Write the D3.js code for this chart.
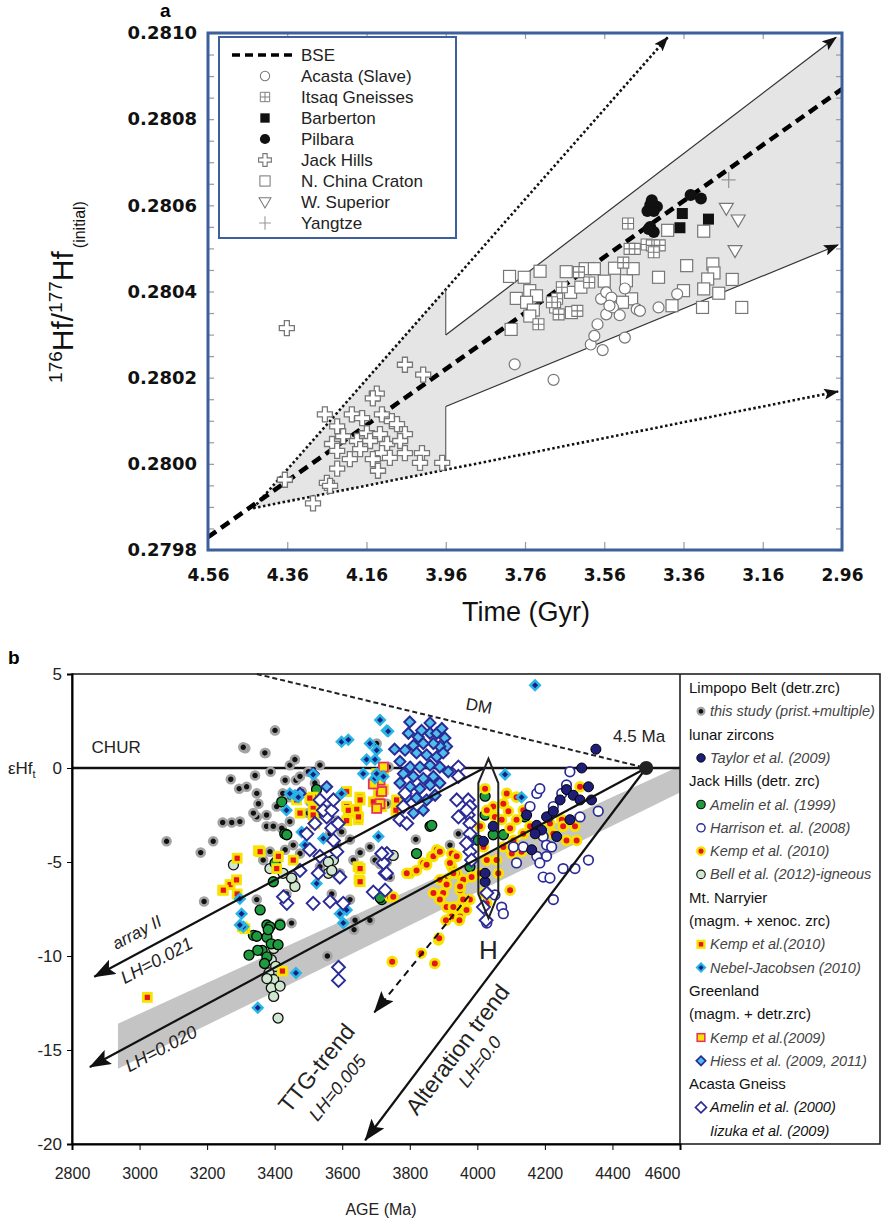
<!DOCTYPE html>
<html>
<head>
<meta charset="utf-8">
<script src="https://cdn.jsdelivr.net/npm/d3@7"></script>
<style>
  body { margin: 0; background: #fff; }
  svg { display: block; font-family: "Liberation Sans", Arial, sans-serif; }
</style>
</head>
<body>
<svg id="chart" width="885" height="1228"></svg>
<script>
// ---------------- panel a : [age Gyr, 176Hf/177Hf initial] ----------------
var aXTicks = [4.56, 4.36, 4.16, 3.96, 3.76, 3.56, 3.36, 3.16, 2.96];
var aYTicks = [0.2798, 0.2800, 0.2802, 0.2804, 0.2806, 0.2808, 0.2810];
var aLegendNames = ["BSE", "Acasta (Slave)", "Itsaq Gneisses", "Barberton", "Pilbara",
                    "Jack Hills", "N. China Craton", "W. Superior", "Yangtze"];

var bse = [[4.56, 0.27983], [2.96, 0.28087]];
var fanArea = [[4.446, 0.279897], [3.96, 0.280405], [3.96, 0.280299], [2.975, 0.28099],
               [2.96, 0.28099], [2.96, 0.280512], [3.96, 0.280133], [3.96, 0.279986]];
var fanUpperDotted = [[4.446, 0.279897], [3.40, 0.28099]];
var fanLowerDotted = [[4.446, 0.279897], [2.97, 0.280168]];
var fanUpperSolid = [[3.96, 0.280299], [2.975, 0.28099]];
var fanLowerSolid = [[3.96, 0.280133], [2.97, 0.280508]];
var fanStepUpper = [[3.96, 0.280405], [3.96, 0.280299]];
var fanStepLower = [[3.96, 0.279986], [3.96, 0.280133]];

var aAcasta = [[3.786,0.280231],[3.688,0.280195],[3.594,0.280277],[3.585,0.280297],[3.564,0.280264],
  [3.508,0.280293],[3.577,0.280324],[3.555,0.280347],[3.568,0.280383],[3.555,0.280398],[3.542,0.280386],
  [3.538,0.280363],[3.521,0.280345],[3.508,0.280407],[3.478,0.280359],[3.470,0.280355],[3.423,0.280363],
  [3.376,0.280394],[3.547,0.280367]];
var aItsaq = [[3.500,0.280558],[3.496,0.280499],[3.483,0.280499],[3.453,0.280509],[3.440,0.280507],
  [3.420,0.280507],[3.435,0.280491],[3.512,0.280467],[3.624,0.280445],[3.598,0.280421],[3.667,0.280410],
  [3.679,0.280383],[3.684,0.280363],[3.675,0.280347],[3.628,0.280355],[3.726,0.280324],[3.692,0.280375]];
var aBarberton = [[3.363,0.280581],[3.369,0.280548],[3.297,0.280568]];
var aPilbara = [[3.444,0.280601],[3.451,0.280587],[3.435,0.280587],[3.427,0.280597],[3.440,0.280612],
  [3.444,0.280550],[3.435,0.280538],[3.448,0.280545],[3.342,0.280624],[3.316,0.280616]];
var aJackHills = [[4.361,0.280315],[4.063,0.280230],[4.017,0.280207],[4.134,0.280163],[4.144,0.280152],
  [4.265,0.280115],[4.197,0.280115],[4.171,0.280106],[4.121,0.280115],[4.096,0.280099],[4.234,0.280087],
  [4.083,0.280092],[4.219,0.280064],[4.159,0.280071],[4.126,0.280069],[4.063,0.280069],[4.247,0.280046],
  [4.184,0.280053],[4.151,0.280053],[4.108,0.280046],[4.075,0.280053],[4.234,0.280030],[4.176,0.280034],
  [4.121,0.280025],[4.063,0.280025],[4.020,0.280025],[4.202,0.280011],[4.144,0.280011],[4.101,0.280014],
  [4.025,0.280002],[3.969,0.280002],[4.234,0.279989],[4.131,0.279984],[4.366,0.279963],[4.260,0.279956],
  [4.252,0.279949],[4.295,0.279908]];
var aNChina = [[3.799,0.280435],[3.762,0.280433],[3.722,0.280447],[3.782,0.280384],[3.748,0.280402],
  [3.731,0.280390],[3.756,0.280375],[3.739,0.280357],[3.748,0.280343],[3.795,0.280312],[3.656,0.280446],
  [3.645,0.280398],[3.643,0.280351],[3.619,0.280410],[3.608,0.280453],[3.585,0.280453],[3.560,0.280424],
  [3.534,0.280454],[3.504,0.280425],[3.487,0.280453],[3.491,0.280383],[3.514,0.280375],[3.423,0.280433],
  [3.400,0.280542],[3.352,0.280460],[3.360,0.280402],[3.389,0.280367],[3.309,0.280540],[3.286,0.280464],
  [3.283,0.280443],[3.299,0.280429],[3.309,0.280406],[3.271,0.280396],[3.312,0.280363],[3.237,0.280428],
  [3.213,0.280363]];
var aWSuperior = [[3.252,0.280593],[3.222,0.280566],[3.230,0.280495]];
var aYangtze = [[3.246,0.280659]];

// ---------------- panel b : [age Ma, epsilon Hf] ----------------
var bXTicks = [2800, 3000, 3200, 3400, 3600, 3800, 4000, 4200, 4400, 4600];
var bYTicks = [5, 0, -5, -10, -15, -20];

var bDM = [[3347, 5], [4500, 0]];
var bArrayII = [[4020, 0], [2866, -11.1]];
var bLH020 = [[4500, 0], [2853, -15.9]];
var bAlteration = [[4500, 0], [3668, -19.8]];
var bTTG = [[3975, -6.8], [3695, -13.0]];
var bBand = [[2936, -13.6], [4600, 0.1], [4600, -1.3], [2936, -16.0]];
var bH = [[4033, 0.5], [4062, -0.8], [4062, -6.7], [4033, -8.0], [4003, -6.7], [4003, -0.8]];
var bOrigin = [4500, 0];

var thisStudy = [[3080,-3.9],[3181,-4.5],[3191,-7.1],[3218,-3.9],[3246,-2.9],[3273,-2.9],[3270,-0.6],
  [3295,-1.1],[3313,1.05],[3317,-1.0],[3342,-0.4],[3347,-1.35],[3352,-1.9],[3373,0.8],[3376,-2.5],
  [3388,-0.2],[3401,2.0],[3347,-2.6],[3376,-3.1],[3396,-3.1],[3297,-2.85],[3337,-2.4],[3431,-0.65],
  [3445,0.15],[3460,0.45],[3463,-0.65],[3406,-2.05],[3424,-1.35],[3445,-1.55],[3475,-0.45],[3480,-1.25],
  [3500,-0.2],[3534,0.15],[3519,-0.8],[3505,-1.8],[3500,-2.4],[3534,-2.4],[3564,-2.2],[3564,-3.5],
  [3583,-2.8],[3598,-3.4],[3583,-4.1],[3623,-3.8],[3633,-4.9],[3653,-4.5],[3682,-4.2],[3697,-4.9],
  [3702,1.3],[3732,-1.9],[3737,0.05],[3455,-4.1],[3475,-4.55],[3505,-4.35],[3455,-6.0],[3435,-6.7],
  [3347,-7.0],[3416,-8.25],[3450,-8.25],[3712,-5.1],[3741,-5.8],[3623,-7.0],[3638,-8.1],[3569,-6.7],
  [3593,-5.6],[3534,-5.25],[3366,-4.9],[3386,-4.45],[3406,-4.9],[3431,-4.35],[3421,-3.2],[3445,-2.85],
  [3944,-3.5],[3818,-3.8],[3919,-4.1],[3732,-5.0],[3556,-10.0],[3635,-8.6],[3682,-8.1],[3307,1.1],[3371,0.8]];
var bell12 = [[3397,-9.6],[3390,-10.2],[3403,-10.55],[3383,-10.9],[3397,-11.25],[3390,-11.7],[3397,-12.15],
  [3410,-13.3],[3377,-11.2],[3416,-11.6],[3386,-5.35],[3425,-5.6],[3460,-6.3],[3574,-4.9],[3559,-5.6],
  [3559,-5.0],[3569,-5.45],[3751,-4.65],[3450,-5.85],[3278,-5.15]];
var amelin99 = [[3377,-8.35],[3416,-8.35],[3337,-8.9],[3377,-9.0],[3390,-9.35],[3363,-9.7],[3410,-9.4],
  [3350,-9.7],[3324,-9.95],[3377,-10.05],[3370,-10.4],[3421,-1.8],[3430,-3.5],[3401,-5.05],[3396,-6.05],
  [3347,-8.95],[3386,-8.45],[3717,-7.0],[3436,-3.55],[3524,-1.15],[3357,-7.55],[3381,-8.6],[3712,-6.9],
  [3820,-4.55],[3860,-3.1],[4023,-1.5],[4023,-2.5],[4047,-3.55],[4077,-3.55],[4003,-3.85],[3978,-5.25],
  [3865,-3.05],[4141,-2.6]];
var kempJH = [[4023,-1.1],[4047,-2.05],[4052,-2.6],[4077,-1.9],[4092,-2.3],[4072,-2.75],[4097,-3.2],
  [4116,-2.75],[4107,-3.85],[4136,-3.5],[4131,-4.45],[4102,-4.55],[4077,-4.2],[4057,-4.9],[4062,-5.6],
  [4097,-6.5],[4028,-2.25],[4008,-3.1],[4018,-4.2],[4028,-4.9],[4008,-5.6],[4018,-6.65],[4028,-7.2],
  [3983,-5.8],[3978,-7.0],[3949,-6.5],[3958,-5.95],[3939,-5.6],[3924,-5.25],[3924,-4.55],[3904,-5.95],
  [3899,-6.65],[3909,-7.4],[3939,-7.4],[3924,-7.9],[3949,-7.9],[3880,-4.35],[3865,-4.7],[3840,-5.05],
  [3801,-5.6],[3741,-6.85],[4156,-3.1],[4176,-3.5],[4215,-2.95],[4225,-3.5],[4250,-2.75],[4264,-3.85],
  [4294,-3.85],[4289,-3.1],[4304,-1.0],[4254,-3.1],[4116,-1.55],[4136,-2.25],[4087,-1.35],[3791,-5.6],
  [3820,-5.45],[3850,-5.15],[3870,-4.7],[3889,-4.45],[3889,-5.95],[3909,-6.2],[3929,-5.6],[3919,-5.05],
  [3939,-4.7],[3949,-6.3],[3958,-7.0],[3929,-7.4],[3968,-7.55],[3889,-7.0],[3870,-6.65],[3751,-6.85],
  [3885,-9.15],[3748,-10.3],[3834,-9.85],[3874,-10.4],[3887,-9.05],[3947,-8.1],[3907,-8.1]];
var harrison = [[4274,-0.2],[4264,-0.9],[4250,-1.35],[4225,-2.05],[4210,-2.6],[4195,-3.65],[4205,-4.1],
  [4205,-4.7],[4220,-4.2],[4254,-5.35],[4289,-5.35],[4329,-4.9],[4358,-2.3],[4304,-2.6],[4176,-4.7],
  [4195,-5.8],[4215,-5.85],[4225,-7.0],[4185,-5.05],[4072,-7.4],[4077,-7.75],[4028,-8.25],[4052,-6.75],
  [4116,-5.05],[4107,-4.2],[4136,-4.2],[4176,-1.35],[4156,-2.05],[4185,-1.1]];
var taylor = [[4146,-2.5],[4176,-3.05],[4190,-3.3],[4205,-2.6],[4225,-2.3],[4245,-1.7],[4264,-1.15],
  [4284,-1.45],[4304,-1.7],[4309,0.0],[4329,-1.0],[4338,-1.7],[4351,1.0],[4235,-3.65],[4161,-4.35],
  [4171,-3.5],[4274,-2.75],[4047,-3.1],[4023,-6.05],[4018,-3.9],[4023,-5.6]];
var kempMN = [[3289,-4.8],[3352,-4.4],[3246,-6.5],[3268,-6.2],[3287,-5.95],[3289,-6.7],[3406,-5.35],
  [3455,-4.9],[3475,-2.4],[3514,-1.55],[3514,-2.15],[3514,-2.5],[3613,-1.25],[3613,-2.05],[3623,-2.4],
  [3647,-2.75],[3652,-1.55],[3647,-5.25],[3650,-5.95],[3702,-0.3],[3712,-0.8],[3722,-1.15],[3707,-1.6],
  [3312,-8.55],[3613,-2.8],[3643,-2.2],[3504,-1.6],[3465,-1.7],[3519,-2.95],[3618,-2.25],[3648,-2.6],
  [3653,-1.7],[3707,-1.35],[3717,-2.05],[3722,-0.2],[3761,-1.7],[3759,-2.25],[3692,-1.8],[3411,-4.7],
  [3357,-4.45],[3248,-6.5],[3653,-5.35],[3653,-6.05],[3023,-12.2],[3304,-8.45],[3423,-10.8]];
var kemp09 = [[3712,-0.65],[3717,-1.25],[3712,-1.9],[3702,-2.15],[3722,0.05],[3692,-0.85]];
var nebel = [[3712,2.55],[3732,2.0],[3598,1.4],[3618,1.5],[3682,1.3],[3514,-0.35],[3460,-1.45],[3435,-2.25],
  [3480,-3.4],[3490,-4.1],[3544,-3.75],[3598,-1.35],[3697,-0.55],[3672,0.45],[3662,-0.3],[3702,0.95],
  [3297,-6.95],[3302,-7.75],[3307,-8.45],[3603,-8.25],[3697,0.45],[3702,-0.3],[3722,-0.45],[3445,-1.35],
  [3470,-1.55],[3707,-3.65],[3524,-6.15],[3593,-7.75],[3613,-7.55],[4171,4.4],[4082,-0.35],[4131,-1.55],
  [3736,1.95],[3350,-12.75],[3463,-10.9],[3297,-8.35]];
var hiess = [[3800,2.45],[3860,2.4],[3796,1.85],[3825,1.65],[3860,1.85],[3880,1.85],[3904,1.6],[3909,1.15],
  [3889,1.15],[3870,1.3],[3840,1.3],[3811,1.2],[3786,0.95],[3820,0.8],[3850,0.7],[3880,0.6],[3899,0.8],
  [3771,0.35],[3801,0.05],[3830,0.05],[3860,0.15],[3889,0.05],[3781,-0.3],[3811,-0.45],[3840,-0.55],
  [3870,-0.45],[3771,-0.8],[3801,-1.0],[3830,-1.1],[3860,-0.9],[3791,-1.55],[3820,-1.6],[3850,-1.7],
  [3875,-1.45],[3840,-2.25],[3811,-2.4],[3781,-2.05],[3889,-0.8],[3914,-0.2],[3514,-0.3],[3554,-1.0],
  [3475,-1.35],[3755,1.0],[3835,2.0],[3895,2.1]];
var acastaB = [[3944,0.05],[3944,-0.45],[3973,-1.7],[3978,-2.05],[3973,-2.5],[3978,-2.95],[3978,-3.5],
  [3973,-4.0],[3978,-4.45],[3983,-4.9],[4028,-6.65],[4018,-7.4],[3727,-5.6],[3727,-6.5],[3786,-1.35],
  [3781,-2.05],[3771,-2.75],[3732,-4.55],[3939,-1.7],[3944,-2.6],[3968,-2.25],[3968,-4.0],[3791,-2.95],
  [3731,-5.6],[3722,-5.05],[3717,-4.55],[3692,-6.6],[3514,-7.2],[3564,-7.1],[3603,-7.2],[3529,-5.6],
  [3593,-5.8],[3534,-4.7],[3504,-4.35],[3495,-3.5],[3574,-3.85],[3584,-4.45],[3569,-3.2],[3554,-2.6],
  [3544,-2.25],[3569,-2.25],[3534,-1.7],[3574,-1.7],[3588,-2.95],[3519,-2.95],[3436,-7.2],[3426,-6.85],
  [3475,-5.45],[3589,-10.6],[3589,-11.3],[4026,-8.1]];

var bLegendRows = [
  ["Limpopo Belt (detr.zrc)", ""], ["this study (prist.+multiple)", "thisStudy"],
  ["lunar zircons", ""], ["Taylor et al. (2009)", "taylor"],
  ["Jack Hills (detr. zrc)", ""], ["Amelin et al. (1999)", "amelin99"],
  ["Harrison et. al. (2008)", "harrison"], ["Kemp et al. (2010)", "kempJH"],
  ["Bell et al. (2012)-igneous", "bell12"], ["Mt. Narryier", ""],
  ["(magm. + xenoc. zrc)", ""], ["Kemp et al.(2010)", "kempMN"],
  ["Nebel-Jacobsen (2010)", "nebel"], ["Greenland", ""],
  ["(magm. + detr.zrc)", ""], ["Kemp et al.(2009)", "kemp09"],
  ["Hiess et al. (2009, 2011)", "hiess"], ["Acasta Gneiss", ""],
  ["Amelin et al. (2000)", "acastaB"], ["Iizuka et al. (2009)", "-"]
];

var svg = d3.select("#chart");
var boldFont = "'DejaVu Sans', Verdana, sans-serif";
var defs = svg.append("defs");

function arrowMarker(id, w, h) {
  defs.append("marker").attr("id", id).attr("markerUnits", "userSpaceOnUse")
    .attr("viewBox", "0 0 " + w + " " + h).attr("markerWidth", w).attr("markerHeight", h)
    .attr("refX", w - 1).attr("refY", h / 2).attr("orient", "auto")
    .append("path").attr("d", "M0,0L" + w + "," + h / 2 + "L0," + h + "L" + (w * 0.2) + "," + h / 2 + "Z")
    .attr("fill", "#111");
}
arrowMarker("headA", 15, 11);
arrowMarker("headB", 22, 16);

// =================== panel a ===================
var ax = d3.scaleLinear().domain([4.56, 2.96]).range([208, 842]);
var ay = d3.scaleLinear().domain([0.2798, 0.2810]).range([550, 33]);
var la = d3.line().x(function(d) { return ax(d[0]); }).y(function(d) { return ay(d[1]); });
var gA = svg.append("g");

gA.append("path").attr("d", la(fanArea) + "Z").attr("fill", "#e5e5e5");

function tickStyle(g) {
  g.select(".domain").remove();
  g.selectAll(".tick line").attr("stroke", "#9a9a9a").attr("stroke-width", 1.2);
}
var minorY = d3.range(25).map(function(i) { return 0.2798 + i * 0.00005; });
var innerX = aXTicks.slice(1, -1);
gA.append("g").attr("transform", "translate(208,0)")
  .call(d3.axisRight(ay).tickValues(minorY).tickSize(6).tickFormat("")).call(tickStyle);
gA.append("g").attr("transform", "translate(842,0)")
  .call(d3.axisLeft(ay).tickValues(minorY).tickSize(6).tickFormat("")).call(tickStyle);
gA.append("g").attr("transform", "translate(0,550)")
  .call(d3.axisTop(ax).tickValues(innerX).tickSize(8).tickFormat("")).call(tickStyle);
gA.append("g").attr("transform", "translate(0,33)")
  .call(d3.axisBottom(ax).tickValues(innerX).tickSize(6).tickFormat("")).call(tickStyle);

// labels
var yLab = gA.append("g").attr("transform", "translate(208,0)")
  .call(d3.axisLeft(ay).tickValues(aYTicks).tickSize(0).tickPadding(11).tickFormat(d3.format(".4f")));
yLab.select(".domain").remove();
yLab.selectAll("text").attr("font-family", boldFont).attr("font-weight", "bold")
  .attr("font-size", 18).attr("fill", "#111");
var xLab = gA.append("g").attr("transform", "translate(0,550)")
  .call(d3.axisBottom(ax).tickValues(aXTicks).tickSize(0).tickPadding(19).tickFormat(d3.format(".2f")));
xLab.select(".domain").remove();
xLab.selectAll("text").attr("font-family", boldFont).attr("font-weight", "bold")
  .attr("font-size", 17).attr("fill", "#111");

// fan lines
gA.append("path").attr("d", la(fanUpperDotted)).attr("stroke", "#111").attr("stroke-width", 2.6)
  .attr("stroke-dasharray", "2.5,2.5").attr("fill", "none").attr("marker-end", "url(#headA)");
gA.append("path").attr("d", la(fanLowerDotted)).attr("stroke", "#111").attr("stroke-width", 2.6)
  .attr("stroke-dasharray", "2.5,2.5").attr("fill", "none").attr("marker-end", "url(#headA)");
[fanUpperSolid, fanLowerSolid].forEach(function(l) {
  gA.append("path").attr("d", la(l)).attr("stroke", "#333").attr("stroke-width", 1.2)
    .attr("fill", "none").attr("marker-end", "url(#headA)");
});
[fanStepUpper, fanStepLower].forEach(function(l) {
  gA.append("path").attr("d", la(l)).attr("stroke", "#555").attr("stroke-width", 1.1).attr("fill", "none");
});
gA.append("path").attr("d", la(bse)).attr("stroke", "#000").attr("stroke-width", 4.5)
  .attr("stroke-dasharray", "10,6").attr("fill", "none");

function markA(g, kind) {
  if (kind === "acasta") {
    g.append("circle").attr("r", 5.5).attr("fill", "#fff").attr("stroke", "#777").attr("stroke-width", 1.2);
  } else if (kind === "itsaq") {
    g.append("path").attr("d", "M-5.5,-5.5h11v11h-11Z M0,-5.5v11 M-5.5,0h11")
      .attr("fill", "#fff").attr("stroke", "#777").attr("stroke-width", 1.1);
  } else if (kind === "barberton") {
    g.append("rect").attr("x", -5.5).attr("y", -5.5).attr("width", 11).attr("height", 11).attr("fill", "#111");
  } else if (kind === "pilbara") {
    g.append("circle").attr("r", 6).attr("fill", "#111");
  } else if (kind === "jackHills") {
    g.append("path").attr("d", d3.symbol(d3.symbolCross, 125)())
      .attr("fill", "#fff").attr("stroke", "#777").attr("stroke-width", 1.3);
  } else if (kind === "nChina") {
    g.append("rect").attr("x", -6).attr("y", -6).attr("width", 12).attr("height", 12)
      .attr("fill", "#fff").attr("stroke", "#777").attr("stroke-width", 1.2);
  } else if (kind === "wSuperior") {
    g.append("path").attr("d", "M-7,-5L7,-5L0,7Z").attr("fill", "#fff").attr("stroke", "#777").attr("stroke-width", 1.2);
  } else if (kind === "yangtze") {
    g.append("path").attr("d", "M-7,0H7M0,-8V8").attr("stroke", "#999").attr("stroke-width", 1.3);
  }
}
var aSeries = [["jackHills", aJackHills], ["nChina", aNChina], ["itsaq", aItsaq], ["acasta", aAcasta],
               ["wSuperior", aWSuperior], ["yangtze", aYangtze], ["barberton", aBarberton], ["pilbara", aPilbara]];
aSeries.forEach(function(s) {
  gA.append("g").selectAll("g").data(s[1]).join("g")
    .attr("transform", function(d) { return "translate(" + ax(d[0]) + "," + ay(d[1]) + ")"; })
    .each(function() { markA(d3.select(this), s[0]); });
});

// frame
gA.append("rect").attr("x", 208).attr("y", 33).attr("width", 634).attr("height", 517)
  .attr("fill", "none").attr("stroke", "#3d5f9c").attr("stroke-width", 3);

// legend a
var legA = gA.append("g");
legA.append("rect").attr("x", 219).attr("y", 37).attr("width", 237).attr("height", 201)
  .attr("fill", "#fff").attr("stroke", "#3d5f9c").attr("stroke-width", 2);
var legKinds = ["bse", "acasta", "itsaq", "barberton", "pilbara", "jackHills", "nChina", "wSuperior", "yangtze"];
aLegendNames.forEach(function(name, i) {
  var cy = 55 + i * 21;
  if (legKinds[i] === "bse") {
    legA.append("line").attr("x1", 232).attr("x2", 297).attr("y1", cy).attr("y2", cy)
      .attr("stroke", "#000").attr("stroke-width", 3.5).attr("stroke-dasharray", "8,5");
  } else {
    var g = legA.append("g").attr("transform", "translate(265," + cy + ") scale(0.85)");
    markA(g, legKinds[i]);
  }
  legA.append("text").attr("x", 301).attr("y", cy + 6).attr("font-size", 17).attr("fill", "#222").text(name);
});

// titles a
svg.append("text").attr("x", 160).attr("y", 17).attr("font-weight", "bold").attr("font-size", 19).text("a");
var yt = svg.append("text").attr("transform", "translate(73,292) rotate(-90)")
  .attr("text-anchor", "middle").attr("fill", "#111");
yt.append("tspan").attr("font-size", 19).attr("dy", -11).text("176");
yt.append("tspan").attr("font-size", 30).attr("dy", 11).text("Hf/");
yt.append("tspan").attr("font-size", 19).attr("dy", -11).text("177");
yt.append("tspan").attr("font-size", 30).attr("dy", 11).text("Hf");
yt.append("tspan").attr("font-size", 16).attr("dy", 12).attr("dx", 3).text("(initial)");
svg.append("text").attr("x", 526).attr("y", 621).attr("text-anchor", "middle")
  .attr("font-size", 27).attr("fill", "#111").text("Time (Gyr)");

// =================== panel b ===================
var bx = d3.scaleLinear().domain([2800, 4600]).range([72, 680]);
var by = d3.scaleLinear().domain([-20, 5]).range([1144, 674]);
var lb = d3.line().x(function(d) { return bx(d[0]); }).y(function(d) { return by(d[1]); });
var gB = svg.append("g");

defs.append("clipPath").attr("id", "clipB").append("rect")
  .attr("x", 72).attr("y", 674).attr("width", 608).attr("height", 470);

gB.append("path").attr("d", lb(bBand) + "Z").attr("fill", "#c4c4c4").attr("clip-path", "url(#clipB)");
gB.append("path").attr("d", lb([[2800, 0], [4600, 0]])).attr("stroke", "#111").attr("stroke-width", 2.4);
gB.append("path").attr("d", lb(bDM)).attr("stroke", "#222").attr("stroke-width", 2)
  .attr("stroke-dasharray", "5,3").attr("fill", "none");

function markB(g, kind) {
  var navy = "#2b2b98";
  if (kind === "thisStudy") {
    g.append("circle").attr("r", 4).attr("fill", "#111").attr("stroke", "#a3a3a3").attr("stroke-width", 2.6);
  } else if (kind === "taylor") {
    g.append("circle").attr("r", 5).attr("fill", "#1e1e78").attr("stroke", "#000").attr("stroke-width", 1);
  } else if (kind === "amelin99") {
    g.append("circle").attr("r", 5).attr("fill", "#1e9b3e").attr("stroke", "#000").attr("stroke-width", 1.3);
  } else if (kind === "harrison") {
    g.append("circle").attr("r", 4.8).attr("fill", "#fff").attr("stroke", navy).attr("stroke-width", 1.7);
  } else if (kind === "kempJH") {
    g.append("circle").attr("r", 4.4).attr("fill", "#e8141c").attr("stroke", "#f6e400").attr("stroke-width", 2.8);
  } else if (kind === "bell12") {
    g.append("circle").attr("r", 5).attr("fill", "#cfe7cf").attr("stroke", "#111").attr("stroke-width", 1.3);
  } else if (kind === "kempMN") {
    g.append("rect").attr("x", -4).attr("y", -4).attr("width", 8).attr("height", 8)
      .attr("fill", "#e8141c").attr("stroke", "#f6e400").attr("stroke-width", 2.8);
  } else if (kind === "kemp09") {
    g.append("rect").attr("x", -4.5).attr("y", -4.5).attr("width", 9).attr("height", 9)
      .attr("fill", "#f6e400").attr("stroke", "#e83060").attr("stroke-width", 1.8);
  } else if (kind === "nebel") {
    g.append("path").attr("d", "M0,-6.5L6.5,0L0,6.5L-6.5,0Z").attr("fill", "#27b4e6");
    g.append("path").attr("d", "M0,-3L3,0L0,3L-3,0Z").attr("fill", "#1a2080");
  } else if (kind === "hiess") {
    g.append("path").attr("d", "M0,-5.5L5.5,0L0,5.5L-5.5,0Z").attr("fill", "#4fbfea").attr("stroke", navy).attr("stroke-width", 2);
  } else if (kind === "acastaB") {
    g.append("path").attr("d", "M0,-6.5L6.5,0L0,6.5L-6.5,0Z").attr("fill", "#fff").attr("stroke", navy).attr("stroke-width", 1.9);
  }
}
var bSeries = [["thisStudy", thisStudy], ["bell12", bell12], ["amelin99", amelin99], ["kempJH", kempJH],
               ["harrison", harrison], ["taylor", taylor], ["kempMN", kempMN], ["kemp09", kemp09],
               ["hiess", hiess], ["nebel", nebel], ["acastaB", acastaB]];
var ptsB = gB.append("g").attr("clip-path", "url(#clipB)");
bSeries.forEach(function(s) {
  ptsB.append("g").selectAll("g").data(s[1]).join("g")
    .attr("transform", function(d) { return "translate(" + bx(d[0]) + "," + by(d[1]) + ")"; })
    .each(function() { markB(d3.select(this), s[0]); });
});

// trend lines
[bArrayII, bLH020, bAlteration].forEach(function(l) {
  gB.append("path").attr("d", lb(l)).attr("stroke", "#111").attr("stroke-width", 2.2)
    .attr("fill", "none").attr("marker-end", "url(#headB)");
});
gB.append("path").attr("d", lb(bTTG)).attr("stroke", "#111").attr("stroke-width", 2)
  .attr("stroke-dasharray", "7,5").attr("fill", "none").attr("marker-end", "url(#headB)");
gB.append("path").attr("d", lb(bH) + "Z").attr("stroke", "#222").attr("stroke-width", 2).attr("fill", "none");
gB.append("circle").attr("cx", bx(bOrigin[0])).attr("cy", by(bOrigin[1])).attr("r", 7).attr("fill", "#222");

// frame b
gB.append("rect").attr("x", 72).attr("y", 674).attr("width", 808).attr("height", 470)
  .attr("fill", "none").attr("stroke", "#222").attr("stroke-width", 1.6);
gB.append("line").attr("x1", 680).attr("x2", 680).attr("y1", 674).attr("y2", 1144)
  .attr("stroke", "#222").attr("stroke-width", 1.6);

var yAx = gB.append("g").attr("transform", "translate(72,0)")
  .call(d3.axisLeft(by).tickValues(bYTicks).tickSize(5).tickPadding(5)
    .tickFormat(function(d) { return String(d); }));
yAx.select(".domain").attr("stroke-width", 2);
yAx.selectAll("text").attr("font-size", 17).attr("fill", "#222").attr("font-family", "'Liberation Sans', Arial, sans-serif");
var xAx = gB.append("g").attr("transform", "translate(0,1144)")
  .call(d3.axisBottom(bx).tickValues(bXTicks).tickSize(6).tickPadding(18)
    .tickFormat(function(d) { return String(d); }));
xAx.select(".domain").attr("stroke-width", 2);
xAx.selectAll("text").attr("font-size", 16).attr("fill", "#222").attr("font-family", "'Liberation Sans', Arial, sans-serif")
  .attr("dx", function(d) { return d === 4600 ? -18 : 0; });

// annotations b
function note(x, y, txt, size, rot, italic, anchor) {
  var t = gB.append("text").attr("transform", "translate(" + x + "," + y + ") rotate(" + rot + ")")
    .attr("font-size", size).attr("fill", "#222").attr("text-anchor", anchor || "middle").text(txt);
  if (italic) t.attr("font-style", "italic");
  return t;
}
note(bx(2858), by(0.8), "CHUR", 17, 0, false, "start");
note(bx(4002), by(3.0), "DM", 17, 10, false);
note(bx(4402), by(1.4), "4.5 Ma", 17, 0, false, "start");
note(bx(4033), by(-9.7) + 9, "H", 26, 0, false);
note(bx(3000), by(-8.7) + 6, "array II", 17, -28, true);
note(bx(3059), by(-10.2) + 6, "LH=0.021", 18, -28, true);
note(bx(3072), by(-14.9) + 6, "LH=0.020", 18, -28, true);
note(bx(3542), by(-15.8) + 8, "TTG-trend", 23, -51, false);
note(bx(3600), by(-16.9) + 6, "LH=0.005", 18, -51, true);
note(bx(3960), by(-14.8) + 8, "Alteration trend", 23, -53, false);
note(bx(4022), by(-15.5) + 6, "LH=0.0", 18, -53, true);

var eps = svg.append("text").attr("x", 8).attr("y", 774).attr("font-size", 17).attr("fill", "#222");
eps.append("tspan").text("\u03B5Hf");
eps.append("tspan").attr("font-size", 11).attr("dy", 4).text("t");
svg.append("text").attr("x", 381).attr("y", 1215).attr("text-anchor", "middle")
  .attr("font-size", 16).attr("fill", "#222").text("AGE (Ma)");
svg.append("text").attr("x", 8).attr("y", 664).attr("font-weight", "bold").attr("font-size", 19).text("b");

// legend b
var legB = gB.append("g");
bLegendRows.forEach(function(row, i) {
  var cy = 688 + i * 23.3;
  var key = row[1];
  if (key === "") {
    legB.append("text").attr("x", 689).attr("y", cy + 5).attr("font-size", 15).attr("fill", "#111").text(row[0]);
  } else {
    if (key !== "-") {
      var g = legB.append("g").attr("transform", "translate(701," + cy + ") scale(0.85)");
      markB(g, key);
    }
    legB.append("text").attr("x", 710).attr("y", cy + 5).attr("font-size", 14.5).attr("font-style", "italic")
      .attr("fill", key === "acastaB" || key === "-" ? "#111" : "#444").text(row[0]);
  }
});
</script>
</body>
</html>
